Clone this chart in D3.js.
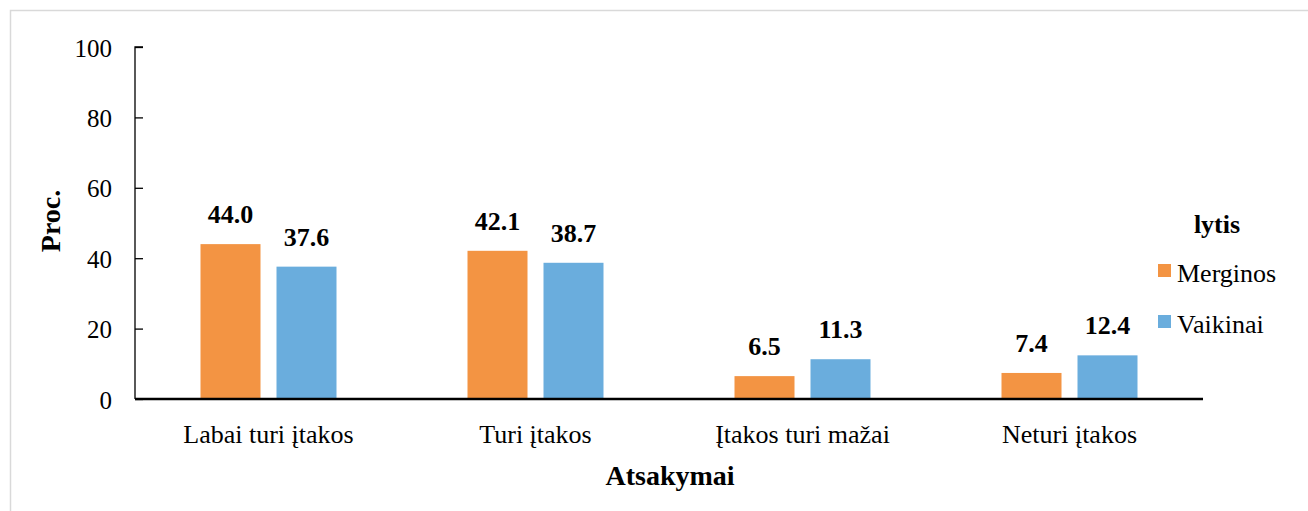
<!DOCTYPE html>
<html><head><meta charset="utf-8">
<script src="https://cdn.jsdelivr.net/npm/d3@7"></script>
<style>body{margin:0;background:#fff}svg{display:block}</style>
</head><body><svg id="c" width="1308" height="511"></svg>
<script>
const categories = ["Labai turi įtakos", "Turi įtakos", "Įtakos turi mažai", "Neturi įtakos"];
const seriesNames = ["Merginos", "Vaikinai"];
const merginos = [44.0, 42.1, 6.5, 7.4];
const vaikinai = [37.6, 38.7, 11.3, 12.4];
const yTicks = [0, 20, 40, 60, 80, 100];
const colors = ["#F39443", "#6AADDD"];

(function(){
const FF = '"Liberation Serif", "Times New Roman", serif';
const svg = d3.select("#c");
svg.append("rect").attr("x", 10.5).attr("y", 10.5).attr("width", 1310).attr("height", 520)
  .attr("fill", "#fff").attr("stroke", "#d9d9d9").attr("stroke-width", 1.5);

const pL = 135, pR = 1203, pT = 47, pB = 399;
const x = d3.scaleBand().domain(categories).range([pL, pR]);
const x1 = d3.scaleBand().domain(seriesNames).range([65.5, 267 - 65.5]).paddingInner(16/76);
const y = d3.scaleLinear().domain([0, 100]).range([pB, pT]);

const yAxis = svg.append("g").attr("transform", `translate(${pL},0)`)
  .call(d3.axisRight(y).tickValues(yTicks).tickSize(8).tickFormat(d3.format("d")));
yAxis.select(".domain").attr("d", `M8,${pT}H0V${pB}`).attr("stroke", "#000").attr("stroke-width", 1.3);
yAxis.selectAll(".tick line").attr("stroke", "#000").attr("stroke-width", 1.3);
yAxis.selectAll(".tick text").attr("x", -23).attr("dy", "0.36em").attr("text-anchor", "end")
  .style("font-family", FF).style("font-size", "25px").attr("fill", "#000");

const groups = svg.append("g").selectAll("g").data(categories).join("g")
  .attr("transform", d => `translate(${x(d)},0)`);
const data = categories.map((c, i) => [merginos[i], vaikinai[i]]);
groups.selectAll("rect").data((d, i) => data[i].map((v, j) => ({v, s: seriesNames[j], j})))
  .join("rect").attr("x", d => x1(d.s)).attr("width", x1.bandwidth())
  .attr("y", d => y(d.v)).attr("height", d => pB - y(d.v)).attr("fill", d => colors[d.j]);
groups.selectAll("text.v").data((d, i) => data[i].map((v, j) => ({v, s: seriesNames[j], j})))
  .join("text").attr("class", "v").attr("x", d => x1(d.s) + x1.bandwidth()/2)
  .attr("y", d => y(d.v) - 21).attr("text-anchor", "middle")
  .style("font-family", FF).style("font-size", "26px").style("font-weight", "bold").text(d => d.v.toFixed(1));

svg.append("line").attr("x1", pL).attr("x2", pR).attr("y1", pB).attr("y2", pB)
  .attr("stroke", "#000").attr("stroke-width", 2.5);

const xAxis = svg.append("g").attr("transform", `translate(0,${pB})`)
  .call(d3.axisBottom(x).tickSize(0));
xAxis.select(".domain").remove();
xAxis.selectAll(".tick text").attr("y", 44).attr("dy", 0)
  .style("font-family", FF).style("font-size", "26px").attr("fill", "#000");

svg.append("text").attr("x", (pL + pR)/2 + 1).attr("y", 485).attr("text-anchor", "middle")
  .style("font-family", FF).style("font-size", "28px").style("font-weight", "bold").text("Atsakymai");
svg.append("text").attr("transform", "translate(60,221) rotate(-90)").attr("text-anchor", "middle")
  .style("font-family", FF).style("font-size", "28px").style("font-weight", "bold").text("Proc.");

const lg = svg.append("g");
lg.append("text").attr("x", 1217).attr("y", 233).attr("text-anchor", "middle")
  .style("font-family", FF).style("font-size", "26px").style("font-weight", "bold").text("lytis");
seriesNames.forEach((s, i) => {
  const yy = 264 + i * 51;
  lg.append("rect").attr("x", 1158).attr("y", yy).attr("width", 13).attr("height", 13).attr("fill", colors[i]);
  lg.append("text").attr("x", 1177).attr("y", yy + 18).style("font-family", FF).style("font-size", "26px").text(s);
});
})();
</script></body></html>
